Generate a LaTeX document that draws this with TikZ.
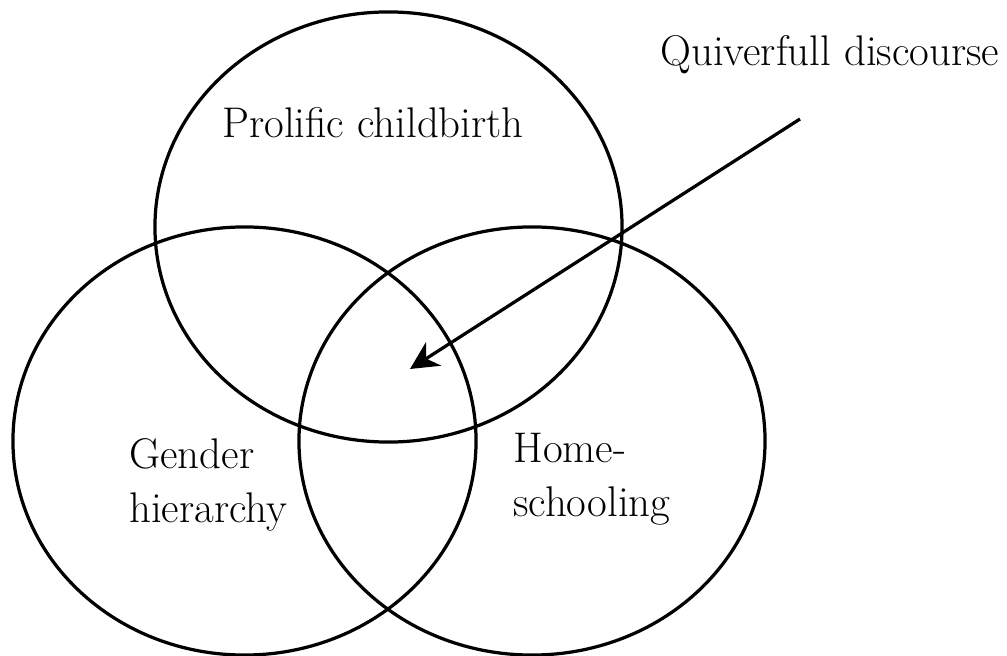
\documentclass[tikz,border=0pt]{standalone}
\usepackage{amsmath}
\usepackage{tikz}
\usetikzlibrary{arrows.meta,shapes.geometric}

\tikzset{
	venn/.style={draw, ellipse, line width=2.3pt, inner sep=0pt},
	lbl/.style={inner sep=0pt, font=\fontsize{30.5}{38.5}\selectfont, align=left}
}

\begin{document}
\begin{tikzpicture}[x=0.025cm, y=-0.025cm]

	\useasboundingbox (0,0) rectangle (1007,656);

	% the three sets
	\node[venn, minimum width=11.675cm, minimum height=10.75cm] (birth) at (388.5,227) {};
	\node[venn, minimum width=11.575cm, minimum height=10.7cm] (gender) at (244.5,441) {};
	\node[venn, minimum width=11.65cm, minimum height=10.7cm] (school) at (532,441) {};

	\node[lbl, anchor=base west] (birthtxt) at (222,138) {Prolific childbirth};
	\node[lbl, anchor=north west] (gendertxt) at (129,438) {Gender\\hierarchy};
	\node[lbl, anchor=north west] (schooltxt) at (513,433) {Home-\\schooling};
	\node[lbl, anchor=base west] (quiver) at (660,66) {Quiverfull discourse};

	\coordinate (qstart) at (800,119);
	\coordinate (core) at (410,369); %centre of all three
	\draw[line width=2.3pt, -{Stealth[length=0.7cm, width=0.7cm, inset=0.22cm]}] (qstart) -- (core);

\end{tikzpicture}
\end{document}
